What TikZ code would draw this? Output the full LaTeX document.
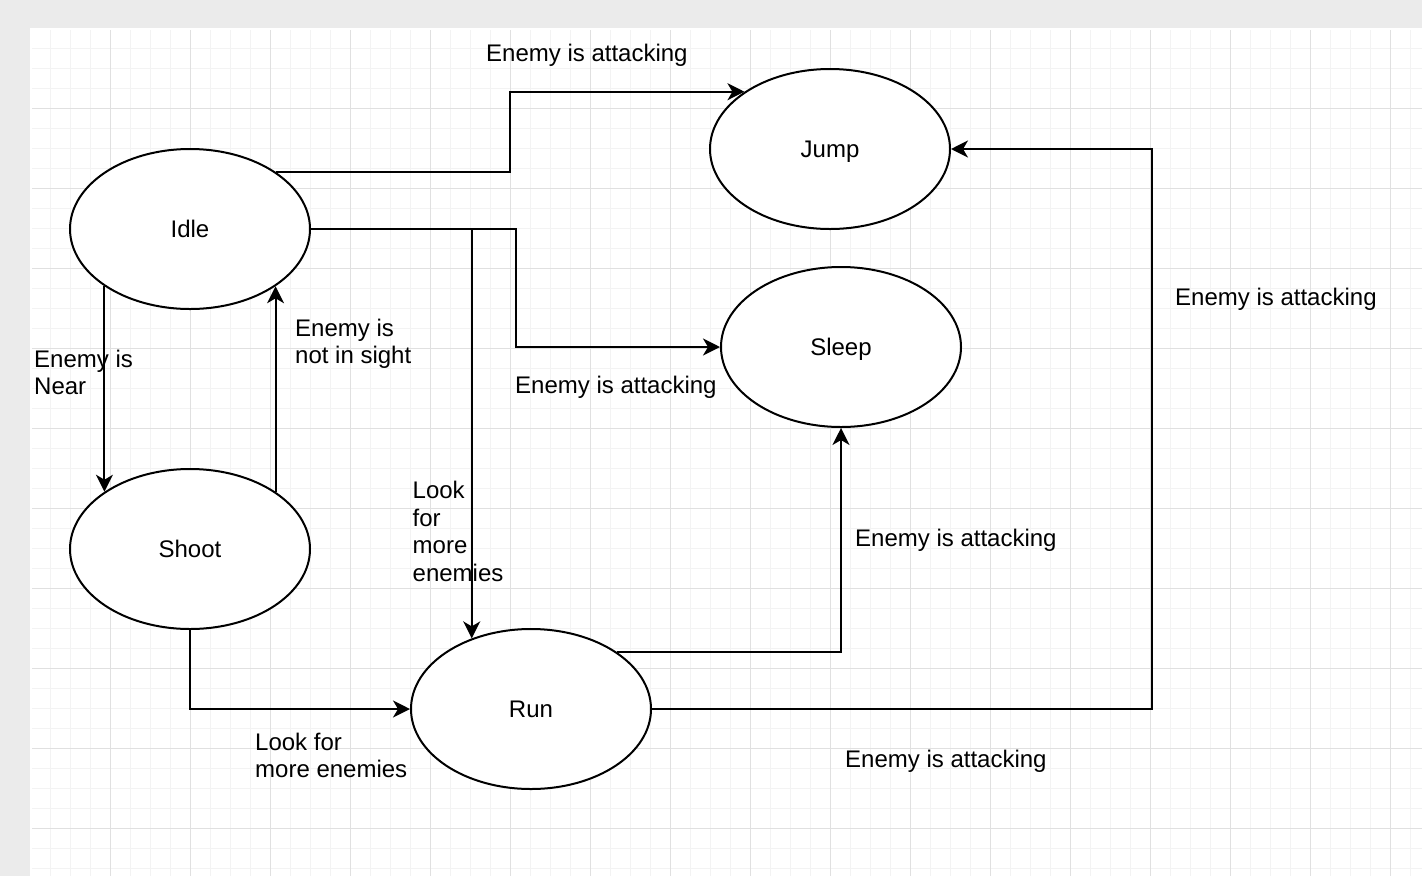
\documentclass[tikz,border=0pt]{standalone}
\usepackage{fontspec}
\setmainfont{Liberation Sans}
\usepackage{tikz}
\usetikzlibrary{shapes.geometric,arrows.meta,positioning}

\definecolor{canvasgray}{HTML}{EBEBEB}
\definecolor{gridminor}{HTML}{F3F3F3}
\definecolor{gridmajor}{HTML}{E0E0E0}

\tikzset{
	state/.style={ellipse, draw, line width=2pt, fill=white, minimum width=240pt, minimum height=160pt, inner sep=0pt, text height=18pt, text depth=1pt},
	link/.style={line width=2pt, -{Stealth[length=17pt,width=17pt,inset=5pt]}},
	cond/.style={inner sep=0pt, align=left},
}

\begin{document}
\begin{tikzpicture}[x=1pt, y=-1pt, font=\fontsize{24}{27.6}\selectfont]
	%background
	\useasboundingbox (0,0) rectangle (1422,876);
	\fill[canvasgray] (0,0) rectangle (1422,876);
	\fill[white] (30,28) rectangle (1422,876);
	\foreach \gx in {50,70,...,1410} \draw[gridminor, line width=1pt] (\gx,30) -- (\gx,876);
	\foreach \gy in {48,68,...,868} \draw[gridminor, line width=1pt] (32,\gy) -- (1422,\gy);
	\foreach \gx in {110,190,...,1390} \draw[gridmajor, line width=1pt] (\gx,30) -- (\gx,876);
	\foreach \gy in {108,188,...,828} \draw[gridmajor, line width=1pt] (32,\gy) -- (1422,\gy);
	
	%nodes
	\node[state] (Idle) at (190,229)                        {Idle};
	\node[state] (Shoot) [below of=Idle, node distance=320pt] {Shoot};
	\node[state] (Run)   at (531,709)                       {Run};
	\node[state] (Jump)  at (830,149)                       {Jump};
	\node[state] (Sleep) at (841,347)                       {Sleep};
	
	%labels
	\node[cond, anchor=base west]  (lblJump)     at (486,61)      {Enemy is attacking};
	\node[cond, anchor=base west]  (lblSleep)    at (515,393)     {Enemy is attacking};
	\node[cond, anchor=north west] (lblNear)     at (34,349.5)    {Enemy is\\Near};
	\node[cond, anchor=north west] (lblSight)    at (295,318.5)   {Enemy is\\not in sight};
	\node[cond, anchor=north west] (lblLook)     at (412.5,481)   {Look\\for\\more\\enemies};
	\node[cond, anchor=north west] (lblMore)     at (255,732.5)   {Look for\\more enemies};
	\node[cond, anchor=base west]  (lblRunSleep) at (855,546)     {Enemy is attacking};
	\node[cond, anchor=base west]  (lblRunJump)  at (1175,305)    {Enemy is attacking};
	\node[cond, anchor=base west]  (lblRunJumpB) at (845,767)     {Enemy is attacking};
	
	%links
	\draw[link] (Idle.north east) -| ([xshift=-234pt]Jump.north west) -- (Jump.north west);
	\draw[link] (Idle.east) -| ([xshift=-204pt]Sleep.west) -- (Sleep.west);
	\draw[link] (Idle.east) -| (Run.130);
	\draw[link] (Idle.south west) -- (Shoot.north west);
	\draw[link] (Shoot.north east) -- (Idle.south east);
	\draw[link] (Shoot.south) |- (Run.west);
	\draw[link] (Run.north east) -| (Sleep.south);
	\draw[link] (Run.east) -| ([xshift=201pt]Jump.east) -- (Jump.east);
\end{tikzpicture}
\end{document}
